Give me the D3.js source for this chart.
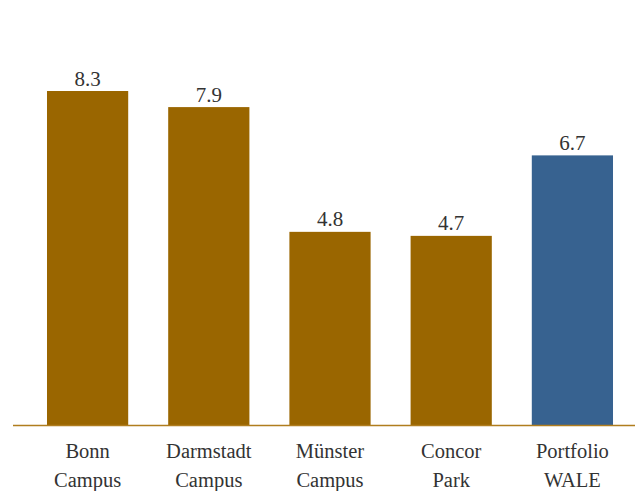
<!DOCTYPE html>
<html>
<head>
<meta charset="utf-8">
<script src="https://cdn.jsdelivr.net/npm/d3@7"></script>
<style>
  body { margin: 0; background: #fff; }
  text { font-family: "Liberation Serif", serif; fill: #333; }
</style>
</head>
<body>
<svg width="635" height="491"></svg>
<script>
const categories = [["Bonn", "Campus"], ["Darmstadt", "Campus"], ["Münster", "Campus"], ["Concor", "Park"], ["Portfolio", "WALE"]];
const values = [8.3, 7.9, 4.8, 4.7, 6.7];
const barColors = ["#9a6600", "#9a6600", "#9a6600", "#9a6600", "#376290"];

const svg = d3.select("svg");
const base = 425;

const x = d3.scaleBand()
    .domain(d3.range(values.length))
    .range([27, 633])
    .paddingInner(0.33)
    .paddingOuter(0.165);

const y = d3.scaleLinear().domain([0, 8.3]).range([base, 91]);

svg.append("g")
    .selectAll("rect")
    .data(values)
    .enter().append("rect")
    .attr("x", (d, i) => x(i))
    .attr("y", d => y(d))
    .attr("width", x.bandwidth())
    .attr("height", d => base - y(d))
    .attr("fill", (d, i) => barColors[i]);

// value labels
svg.append("g")
    .selectAll("text")
    .data(values)
    .enter().append("text")
    .attr("x", (d, i) => x(i) + x.bandwidth() / 2)
    .attr("y", d => y(d) - 5.5)
    .attr("text-anchor", "middle")
    .attr("font-size", 21)
    .text(d => d.toFixed(1));

// baseline
svg.append("line")
    .attr("x1", 13).attr("x2", 635)
    .attr("y1", base + 0.5).attr("y2", base + 0.5)
    .attr("stroke", "#b07d1e")
    .attr("stroke-width", 1.5);

// category labels
const lbl = svg.append("g")
    .selectAll("text")
    .data(categories)
    .enter().append("text")
    .attr("text-anchor", "middle")
    .attr("font-size", 20.5);

lbl.selectAll("tspan")
    .data((d, i) => d.map(t => ({t, i})))
    .enter().append("tspan")
    .attr("x", d => x(d.i) + x.bandwidth() / 2)
    .attr("y", (d, j) => 458 + j * 28.5)
    .text(d => d.t);
</script>
</body>
</html>
